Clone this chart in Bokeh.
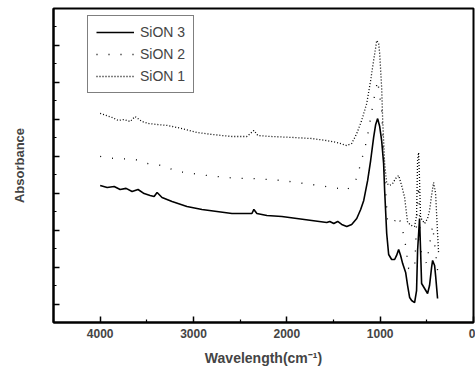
from bokeh.plotting import figure
from bokeh.models import FixedTicker, Range1d, Legend, LegendItem
from bokeh.embed import file_html
from bokeh.resources import INLINE

# SiON 3 (solid)
wn3 = [4000, 3925, 3850, 3786, 3722, 3658, 3594, 3529, 3465, 3422, 3390, 3337, 3230, 3070,
       2909, 2749, 2588, 2428, 2374, 2353, 2321, 2214, 2053, 1893, 1733, 1572, 1540, 1497,
       1455, 1412, 1358, 1305, 1251, 1209, 1176, 1134, 1102, 1070, 1048, 1027, 1005, 984,
       963, 952, 930, 909, 877, 845, 824, 802, 781, 759, 727, 706, 684, 663, 631, 610, 599,
       578, 567, 556, 524, 492, 471, 449, 438, 417, 406, 385]
ab3 = [0.742, 0.731, 0.736, 0.720, 0.726, 0.709, 0.720, 0.698, 0.688, 0.682, 0.704, 0.677,
       0.655, 0.628, 0.612, 0.601, 0.590, 0.590, 0.590, 0.612, 0.590, 0.579, 0.574, 0.563,
       0.552, 0.541, 0.547, 0.536, 0.547, 0.531, 0.520, 0.531, 0.563, 0.612, 0.661, 0.769,
       0.877, 1.002, 1.072, 1.104, 1.061, 0.985, 0.861, 0.715, 0.482, 0.368, 0.341, 0.341,
       0.363, 0.395, 0.363, 0.319, 0.271, 0.200, 0.135, 0.119, 0.108, 0.173, 0.390, 0.563,
       0.390, 0.211, 0.184, 0.157, 0.200, 0.298, 0.336, 0.309, 0.254, 0.130]

# SiON 2 (sparse dots)
wn2 = [4000, 3850, 3626, 3497, 3337, 3176, 2856, 2535, 2374, 2053, 1733, 1444, 1358, 1251,
       1144, 1070, 1027, 984, 952, 920, 856, 802, 738, 695, 631, 599, 588, 567, 503, 438, 385]
ab2 = [0.899, 0.888, 0.883, 0.861, 0.850, 0.818, 0.796, 0.780, 0.780, 0.769, 0.747, 0.726,
       0.715, 0.780, 0.985, 1.202, 1.310, 1.148, 0.796, 0.541, 0.541, 0.579, 0.455, 0.292,
       0.292, 0.661, 0.742, 0.390, 0.319, 0.525, 0.282]

# SiON 1 (dotted)
wn1 = [4000, 3936, 3872, 3807, 3743, 3679, 3626, 3551, 3476, 3390, 3283, 3123, 2962, 2802,
       2588, 2428, 2353, 2310, 2160, 1947, 1733, 1572, 1465, 1358, 1305, 1251, 1198, 1144,
       1102, 1070, 1048, 1037, 1016, 1005, 984, 973, 952, 930, 898, 866, 834, 802, 770, 738,
       706, 663, 631, 610, 599, 588, 578, 567, 524, 492, 471, 449, 428, 406, 385, 374]
ab1 = [1.132, 1.121, 1.110, 1.094, 1.099, 1.088, 1.115, 1.088, 1.077, 1.072, 1.067, 1.050,
       1.029, 1.018, 1.007, 1.007, 1.040, 1.012, 1.007, 1.002, 0.996, 0.985, 0.975, 0.958,
       0.969, 1.023, 1.094, 1.186, 1.310, 1.419, 1.489, 1.527, 1.511, 1.456, 1.272, 1.094,
       0.861, 0.753, 0.742, 0.753, 0.780, 0.796, 0.742, 0.677, 0.541, 0.525, 0.520, 0.579,
       0.877, 0.920, 0.769, 0.568, 0.536, 0.563, 0.606, 0.688, 0.758, 0.698, 0.482, 0.374]

x_ticks = [4000, 3000, 2000, 1000, 0]
x_minor = [4500, 3500, 2500, 1500, 500]
y_major = [0.1, 0.3, 0.5, 0.7, 0.9, 1.1, 1.3, 1.5]
y_minor = [0.2, 0.4, 0.6, 0.8, 1.0, 1.2, 1.4, 1.6]

FONT = "Liberation Sans"

p = figure(width=475, height=374, output_backend="svg", toolbar_location=None,
           x_range=Range1d(4500, 0), y_range=Range1d(0, 1.7),
           min_border_left=53, min_border_right=2, min_border_top=8, min_border_bottom=52)
p.background_fill_color = "white"
p.border_fill_color = "white"
p.grid.visible = False
p.outline_line_color = "black"
p.outline_line_width = 2

r3 = p.line(wn3, ab3, line_color="black", line_width=1.6)
r2 = p.line(wn2, ab2, line_color="black", line_width=1.3, line_dash="1 11")
r1 = p.line(wn1, ab1, line_color="black", line_width=1.3, line_dash="1 2")

p.xaxis.ticker = FixedTicker(ticks=x_ticks, minor_ticks=x_minor)
p.yaxis.ticker = FixedTicker(ticks=y_major, minor_ticks=y_minor)

for ax in (p.xaxis[0], p.yaxis[0]):
    ax.axis_line_width = 2
    ax.major_tick_in = 6
    ax.major_tick_out = 0
    ax.minor_tick_in = 3
    ax.minor_tick_out = 0
    ax.major_tick_line_width = 1.5
    ax.minor_tick_line_width = 1.2
    ax.axis_label_text_font = FONT
    ax.axis_label_text_font_style = "bold"
    ax.major_label_text_font = FONT
    ax.major_label_text_font_style = "bold"
    ax.major_label_text_font_size = "12px"

p.xaxis.axis_label = "Wavelength(cm⁻¹)"
p.xaxis.axis_label_text_font_size = "14px"
p.xaxis.axis_label_standoff = 9
p.xaxis.major_label_standoff = 6
p.yaxis.axis_label = "Absorbance"
p.yaxis.axis_label_text_font_size = "13px"
p.yaxis.major_label_overrides = {v: "" for v in y_major}
p.yaxis.axis_label_standoff = 27

legend = Legend(items=[LegendItem(label="SiON 3", renderers=[r3]),
                       LegendItem(label="SiON 2", renderers=[r2]),
                       LegendItem(label="SiON 1", renderers=[r1])],
                location=(34, 229))
legend.border_line_color = "black"
legend.border_line_width = 1
legend.background_fill_alpha = 1
legend.label_text_font = FONT
legend.label_text_font_size = "14px"
legend.glyph_width = 38
legend.glyph_height = 14
legend.label_height = 14
legend.label_standoff = 6
legend.spacing = 6
legend.padding = 8
legend.margin = 0
p.add_layout(legend)

open("out.html", "w").write(file_html(p, INLINE))
